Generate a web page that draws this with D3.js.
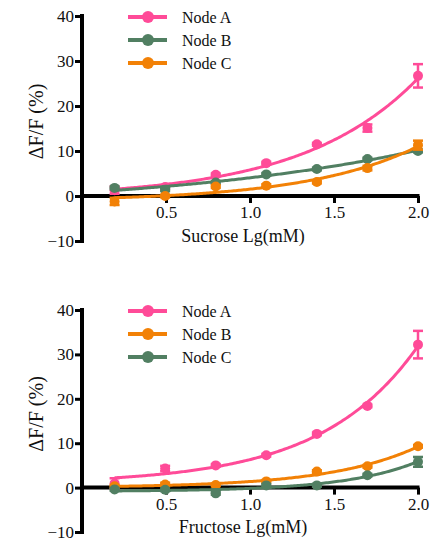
<!DOCTYPE html>
<html>
<head>
<meta charset="UTF-8">
<title>Sucrose / Fructose response</title>
<script src="https://d3js.org/d3.v7.min.js"></script>
<style>
  body { margin: 0; background: #fff; }
  svg text { font-family: "Liberation Serif", Tinos, "Times New Roman", Times, "DejaVu Serif", serif; fill: #111; }
</style>
</head>
<body>
<svg width="439" height="541"></svg>
<script>
// lg(mM) of the doubling concentrations
const xVals = [0.194, 0.495, 0.796, 1.097, 1.398, 1.699, 2.0];
const xTicks = [0.5, 1.0, 1.5, 2.0];
const yTicks = [-10, 0, 10, 20, 30, 40];

// Sucrose panel
const sucA = [1.3, 2.0, 4.7, 7.3, 11.5, 15.1, 26.7];
const sucAErr = [0.8, 0.3, 0.3, 0.3, 0.3, 0.8, 2.6];
const sucB = [1.8, 1.4, 3.0, 4.8, 6.0, 8.2, 10.0];
const sucBErr = [0.3, 0.3, 0.3, 0.3, 0.3, 0.3, 0.3];
const sucC = [-1.2, 0.0, 2.1, 2.3, 3.1, 6.2, 11.3];
const sucCErr = [0.8, 0.3, 0.3, 0.3, 0.3, 0.5, 1.0];

// Fructose panel
const fruA = [0.9, 4.3, 5.0, 7.3, 12.1, 18.4, 32.2];
const fruAErr = [1.2, 0.6, 0.3, 0.3, 0.3, 0.3, 3.1];
const fruB = [0.3, 0.7, 0.6, 1.4, 3.6, 4.8, 9.3];
const fruBErr = [0.3, 0.4, 0.3, 0.3, 0.3, 0.3, 0.3];
const fruC = [-0.4, -0.5, -1.3, 0.5, 0.5, 2.8, 5.8];
const fruCErr = [0.3, 0.3, 0.3, 0.3, 0.3, 0.3, 1.1];

const pink = "#ff4b98", green = "#517f62", orange = "#f28106";
const serif = '"Liberation Serif", Tinos, "Times New Roman", Times, "DejaVu Serif", serif';

const panels = [
  { top: 16, bottom: 241, xlabel: "Sucrose Lg(mM)",
    series: [
      { name: "Node A", color: pink, y: sucA, err: sucAErr },
      { name: "Node B", color: green, y: sucB, err: sucBErr },
      { name: "Node C", color: orange, y: sucC, err: sucCErr }
    ] },
  { top: 310, bottom: 532, xlabel: "Fructose Lg(mM)",
    series: [
      { name: "Node A", color: pink, y: fruA, err: fruAErr },
      { name: "Node B", color: orange, y: fruB, err: fruBErr },
      { name: "Node C", color: green, y: fruC, err: fruCErr }
    ] }
];

// exponential growth fit y = a + b*exp(k*x), k by grid search, a,b by least squares
function expFit(xs, ys) {
  let best = null;
  for (let k = -4; k <= 6; k += 0.01) {
    const e = xs.map(x => Math.exp(k * x));
    const n = xs.length;
    const se = d3.sum(e), sy = d3.sum(ys);
    const see = d3.sum(e, v => v * v), sey = d3.sum(e.map((v, i) => v * ys[i]));
    const den = n * see - se * se;
    if (Math.abs(den) < 1e-12) continue;
    const b = (n * sey - se * sy) / den;
    const a = (sy - b * se) / n;
    const sse = d3.sum(xs, (x, i) => (a + b * Math.exp(k * x) - ys[i]) ** 2);
    if (!best || sse < best.sse) best = { a, b, k, sse };
  }
  return x => best.a + best.b * Math.exp(best.k * x);
}

const svg = d3.select("svg").attr("font-family", serif);
const x = d3.scaleLinear().domain([0, 2.0]).range([82, 418]);

panels.forEach(p => {
  const y = d3.scaleLinear().domain([-10, 40]).range([p.bottom, p.top]);
  const g = svg.append("g");

  // y axis
  const ya = g.append("g").attr("transform", `translate(${x(0)},0)`)
    .call(d3.axisLeft(y).tickValues(yTicks).tickSize(7).tickPadding(1).tickSizeOuter(0))
    .attr("font-family", serif).attr("font-size", 17);
  ya.select(".domain").attr("stroke", "#000").attr("stroke-width", 4)
    .attr("d", `M0,${y(-10) + 2}V${y(40) - 2}`);
  ya.selectAll(".tick line").attr("stroke", "#000").attr("stroke-width", 3);
  ya.selectAll(".tick text").attr("dy", "0.32em");

  // x axis along y = 0
  const xa = g.append("g").attr("transform", `translate(0,${y(0)})`)
    .call(d3.axisBottom(x).tickValues(xTicks).tickFormat(d3.format(".1f")).tickSize(7).tickPadding(3).tickSizeOuter(0))
    .attr("font-family", serif).attr("font-size", 17);
  xa.select(".domain").attr("stroke", "#000").attr("stroke-width", 4)
    .attr("d", `M${x(0)},0H${x(2.0) + 1.5}`);
  xa.selectAll(".tick line").attr("stroke", "#000").attr("stroke-width", 3);

  // axis titles
  g.append("text")
    .attr("transform", `translate(43,${(p.top + p.bottom) / 2 - 7}) rotate(-90)`)
    .attr("text-anchor", "middle")
    .style("font-size", "20px")
    .text("ΔF/F (%)");
  g.append("text")
    .attr("x", 243).attr("y", p.bottom + 1)
    .attr("text-anchor", "middle")
    .style("font-size", "18px")
    .text(p.xlabel);

  // series: fit curve, error bars, points
  p.series.forEach(s => {
    const f = expFit(xVals, s.y);
    const xs = d3.range(xVals[0], 2.0001, 0.01);
    g.append("path")
      .datum(xs)
      .attr("fill", "none")
      .attr("stroke", s.color)
      .attr("stroke-width", 3)
      .attr("d", d3.line().x(d => x(d)).y(d => y(f(d))));

    const pts = xVals.map((xv, i) => ({ x: xv, y: s.y[i], e: s.err[i] }));
    const eb = g.append("g").attr("stroke", s.color).attr("stroke-width", 2.5);
    pts.forEach(d => {
      eb.append("line").attr("x1", x(d.x)).attr("x2", x(d.x))
        .attr("y1", y(d.y - d.e)).attr("y2", y(d.y + d.e));
      [d.y - d.e, d.y + d.e].forEach(v => {
        eb.append("line").attr("x1", x(d.x) - 5).attr("x2", x(d.x) + 5)
          .attr("y1", y(v)).attr("y2", y(v));
      });
    });
    g.append("g").selectAll("circle")
      .data(pts).enter().append("circle")
      .attr("cx", d => x(d.x))
      .attr("cy", d => y(d.y))
      .attr("r", 5)
      .attr("fill", s.color);
  });

  // legend
  const lg = g.append("g");
  p.series.forEach((s, i) => {
    const ly = p.top + 1 + i * 23;
    lg.append("line").attr("x1", 128).attr("x2", 167).attr("y1", ly).attr("y2", ly)
      .attr("stroke", s.color).attr("stroke-width", 4);
    lg.append("circle").attr("cx", 148).attr("cy", ly).attr("r", 6).attr("fill", s.color);
    lg.append("text").attr("x", 182).attr("y", ly + 5.5).style("font-size", "16px").text(s.name);
  });
});
</script>
</body>
</html>
